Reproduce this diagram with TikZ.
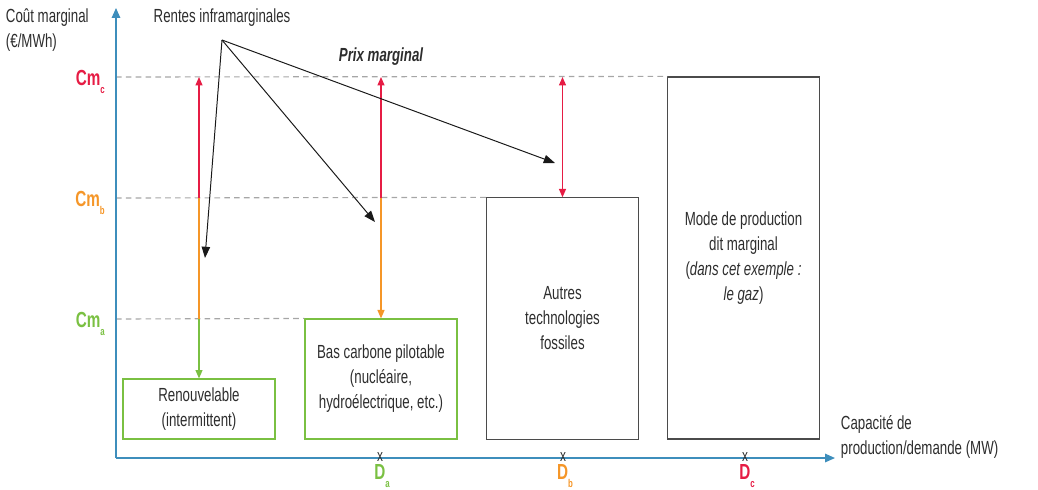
\documentclass[tikz,border=0pt]{standalone}
\usepackage{fontspec}
\setmainfont[FakeStretch=0.7]{Liberation Sans}
\usetikzlibrary{arrows.meta}

\definecolor{axisblue}{RGB}{62,142,188}
\definecolor{cmred}{RGB}{230,28,68}
\definecolor{cmorange}{RGB}{245,150,40}
\definecolor{cmgreen}{RGB}{122,192,66}
\definecolor{boxgray}{RGB}{75,75,75}
\definecolor{txtgray}{RGB}{45,45,45}
\newcommand{\lvlname}[2]{{\bfseries #1\raisebox{-0.7ex}{\fontsize{8}{8}\selectfont #2}}}

\begin{document}
\begin{tikzpicture}[
    x=0.025cm, y=-0.025cm,
    >={Triangle[length=6pt,width=5pt]},
    every node/.style={font=\fontsize{13.5}{17.8}\selectfont, text=txtgray},
    box/.style={rectangle, draw=boxgray, line width=0.8pt, align=center, inner sep=0pt},
    greenbox/.style={box, draw=cmgreen},
    axis/.style={->, >={Triangle[length=7pt,width=6pt]}, draw=axisblue, line width=1pt},
    level/.style={draw=black!35, dash pattern=on 4pt off 3pt, line width=0.8pt},
    rent/.style={->, >={Triangle[length=8pt,width=6pt]}, black!90, line width=0.7pt},
    gap/.style={line width=0.8pt},
    lab/.style={font=\fontsize{15.5}{15.5}\selectfont, inner sep=0pt},
    tick/.style={font=\fontsize{12}{12}\selectfont, inner sep=0pt, anchor=base},
  ]
    \useasboundingbox (0,0) rectangle (1038,489);

    \coordinate (orig) at (116,458);
    \coordinate (lc) at (116,77);
    \coordinate (lb) at (116,198);
    \coordinate (la) at (116,319);

    \node[greenbox, minimum width=3.8cm, minimum height=1.5cm]  (renew)  at (199,409)   {Renouvelable\\(intermittent)};
    \node[greenbox, minimum width=3.8cm, minimum height=3cm]    (bas)    at (381,379)   {Bas carbone pilotable\\(nucléaire,\\hydroélectrique, etc.)};
    \node[box, minimum width=3.78cm, minimum height=6.03cm]     (autres) at (562.5,318.5) {Autres\\technologies\\fossiles};
    \node[box, minimum width=3.78cm, minimum height=9.05cm]     (mode)   at (743.5,258) {Mode de production\\dit marginal\\(\textit{dans cet exemple :}\\\textit{le gaz})};

    \draw[level] (lc) -- (mode.north west);
    \draw[level] (lb) -- (autres.north west);
    \draw[level] (la) -- (bas.north west);

    \draw[axis] (orig) -- (116,8);
    \draw[axis] (orig) -- (835,458);

    \node[anchor=north west, align=left] (ylab) at (1,4) {Coût marginal\\(€/MWh)};
    \node[anchor=north west, align=left] (xlab) at (836,411) {Capacité de\\production/demande (MW)};

    \node[lab, text=cmred, anchor=base east]    (cmc) at (105,85)  {\lvlname{Cm}{c}};
    \node[lab, text=cmorange, anchor=base east] (cmb) at (105,206) {\lvlname{Cm}{b}};
    \node[lab, text=cmgreen, anchor=base east]  (cma) at (105,327) {\lvlname{Cm}{a}};

    \node[tick] (ta) at (380,461.5) {x};
    \node[tick] (tb) at (563,461.5) {x};
    \node[tick] (tc) at (745,461.5) {x};
    \node[lab, text=cmgreen, anchor=base]  (da) at (382,479) {\lvlname{D}{a}};
    \node[lab, text=cmorange, anchor=base] (db) at (565,479) {\lvlname{D}{b}};
    \node[lab, text=cmred, anchor=base]    (dc) at (747,479) {\lvlname{D}{c}};

    \draw[gap, cmred, ->]    (renew.north |- lb) -- (renew.north |- lc);
    \draw[gap, cmorange]     (renew.north |- la) -- (renew.north |- lb);
    \draw[gap, cmgreen, ->]  (renew.north |- la) -- (renew.north);
    \draw[gap, cmred, ->]    (bas.north |- lb) -- (bas.north |- lc);
    \draw[gap, cmorange, ->] (bas.north |- lb) -- (bas.north);
    \draw[gap, cmred, <->]   (autres.north) -- (autres.north |- lc);

    \node (rentes) at (222,18) {Rentes inframarginales};
    \node[font=\fontsize{13.5}{13.5}\selectfont\bfseries\itshape] (prix) at (381,57) {Prix marginal};
    \coordinate (hub) at (222,40);
    \coordinate (r1) at (205,258);
    \coordinate (r2) at (375,222);
    \coordinate (r3) at (555,163);
    \draw[rent] (hub) -- (r1);
    \draw[rent] (hub) -- (r2);
    \draw[rent] (hub) -- (r3);
  \end{tikzpicture}
\end{document}
